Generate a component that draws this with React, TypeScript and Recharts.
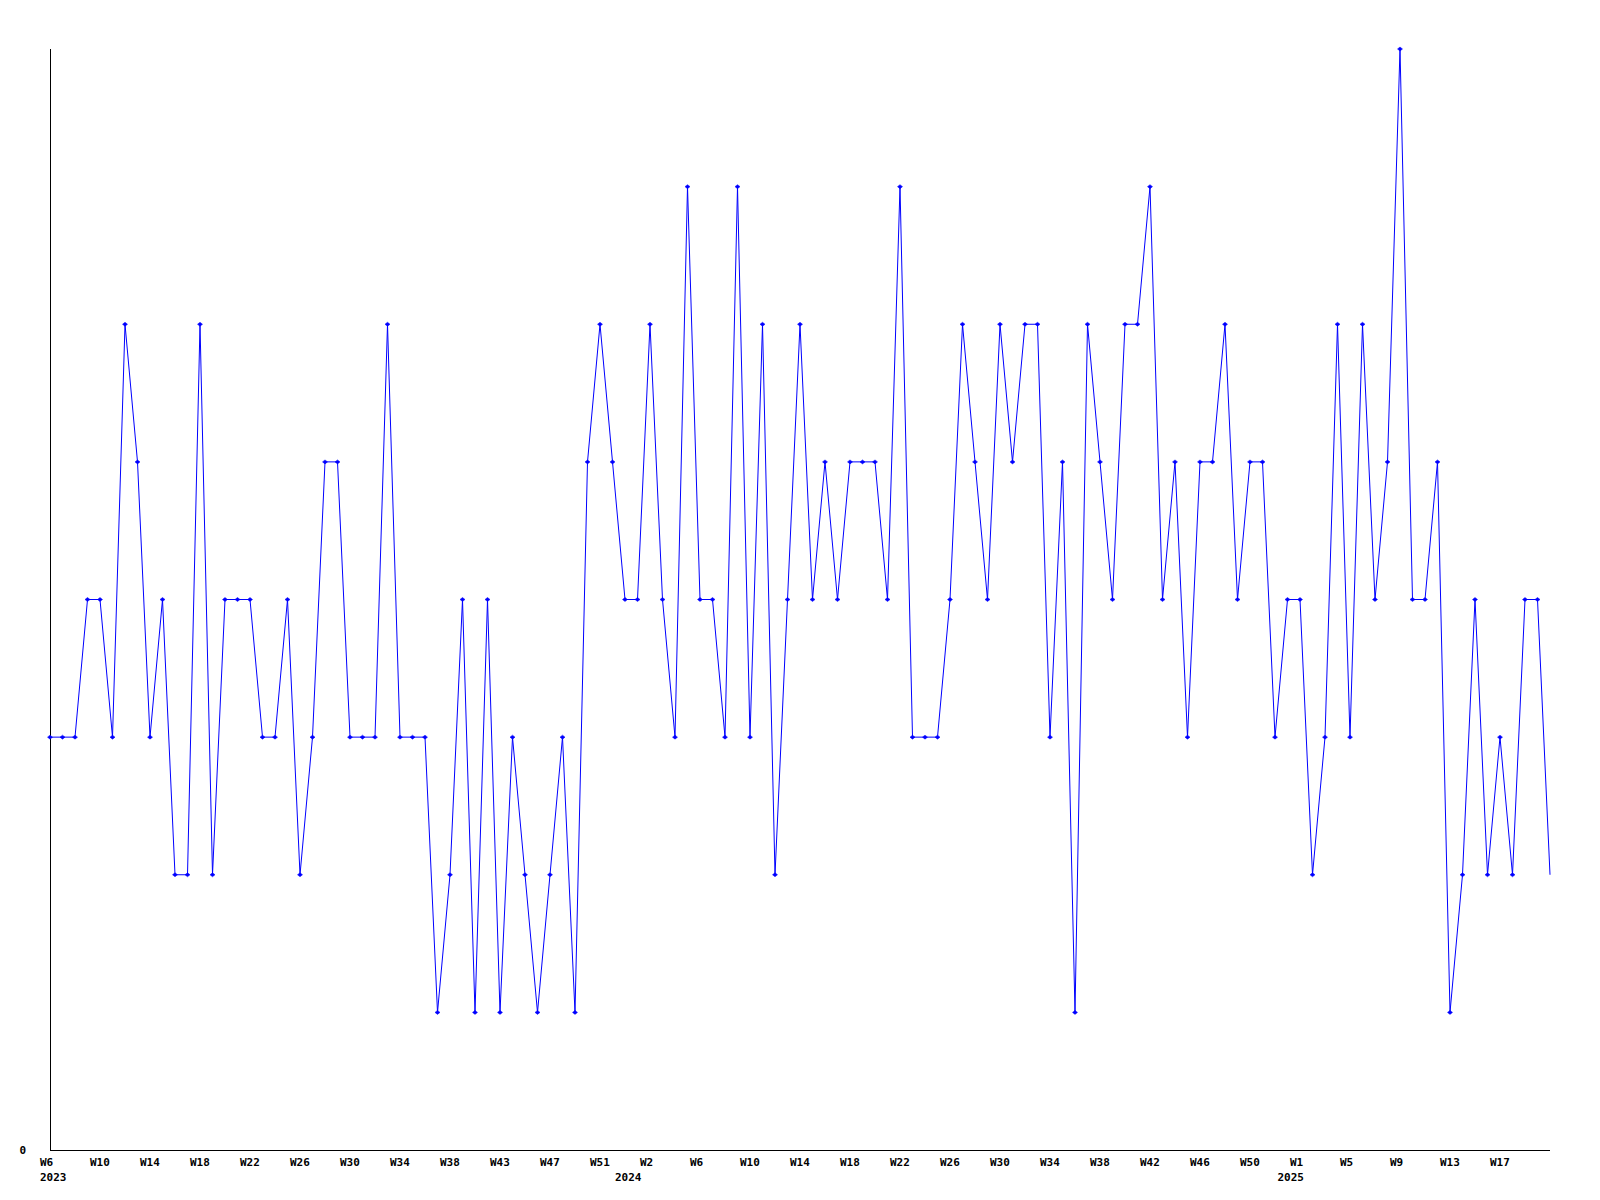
import { Line, LineChart, XAxis, YAxis } from "recharts";

const years = ["2023", "2024", "2025"];

const weeks2023 = [
  "W6", "W7", "W8", "W9", "W10", "W11", "W12", "W13", "W14", "W15",
  "W16", "W17", "W18", "W19", "W20", "W21", "W22", "W23", "W24", "W25",
  "W26", "W27", "W28", "W29", "W30", "W31", "W32", "W33", "W34", "W35",
  "W36", "W37", "W38", "W39", "W40", "W41", "W43", "W44", "W45", "W46",
  "W47", "W48", "W49", "W50", "W51", "W52",
];
const weeks2024 = [
  "W0", "W1", "W2", "W3", "W4", "W5", "W6", "W7", "W8", "W9",
  "W10", "W11", "W12", "W13", "W14", "W15", "W16", "W17", "W18", "W19",
  "W20", "W21", "W22", "W23", "W24", "W25", "W26", "W27", "W28", "W29",
  "W30", "W31", "W32", "W33", "W34", "W35", "W36", "W37", "W38", "W39",
  "W40", "W41", "W42", "W43", "W44", "W45", "W46", "W47", "W48", "W49",
  "W50", "W51", "W52",
];
const weeks2025 = [
  "W0", "W1", "W2", "W3", "W4", "W5", "W6", "W7", "W8", "W9",
  "W10", "W11", "W12", "W13", "W14", "W15", "W16", "W17", "W18", "W19",
  "W20", "W21",
];

const counts2023 = [
  3, 3, 3, 4, 4, 3, 6, 5, 3, 4,
  2, 2, 6, 2, 4, 4, 4, 3, 3, 4,
  2, 3, 5, 5, 3, 3, 3, 6, 3, 3,
  3, 1, 2, 4, 1, 4, 1, 3, 2, 1,
  2, 3, 1, 5, 6, 5,
];
const counts2024 = [
  4, 4, 6, 4, 3, 7, 4, 4, 3, 7,
  3, 6, 2, 4, 6, 4, 5, 4, 5, 5,
  5, 4, 7, 3, 3, 3, 4, 6, 5, 4,
  6, 5, 6, 6, 3, 5, 1, 6, 5, 4,
  6, 6, 7, 4, 5, 3, 5, 5, 6, 4,
  5, 5, 3,
];
const counts2025 = [
  4, 4, 2, 3, 6, 3, 6, 4, 5, 8,
  4, 4, 5, 1, 2, 4, 2, 3, 2, 4,
  4, 2,
];

type Row = { key: string; year: string; week: string; count: number; first: boolean };

const rows: Row[] = [];
[
  [weeks2023, counts2023],
  [weeks2024, counts2024],
  [weeks2025, counts2025],
].forEach(([weeks, counts], yi) => {
  (weeks as string[]).forEach((week, i) => {
    rows.push({
      key: `${years[yi]}-${week}`,
      year: years[yi],
      week,
      count: (counts as number[])[i],
      first: i === 0,
    });
  });
});

const font = "'DejaVu Sans Mono', monospace";
const blue = "#0000ff";
const last = rows.length - 1;

function WeekTick(props: any) {
  const { x, index } = props;
  const row = rows[index];
  if (!row) return null;
  return (
    <g>
      {index % 4 === 0 && index !== last && (
        <text x={x - 10} y={1166} fontFamily={font} fontSize={11} fontWeight="bold" fill="#000">
          {row.week}
        </text>
      )}
      {row.first && (
        <text x={x - 10} y={1181} fontFamily={font} fontSize={11} fontWeight="bold" fill="#000">
          {row.year}
        </text>
      )}
    </g>
  );
}

function ZeroTick(props: any) {
  const { y, payload } = props;
  return (
    <text x={26} y={y + 4} textAnchor="end" fontFamily={font} fontSize={11} fontWeight="bold" fill="#000">
      {payload.value}
    </text>
  );
}

function Marker(props: any) {
  const { cx, cy, index } = props;
  if (cx == null || cy == null || index === last) return <g key={index} />;
  return (
    <path
      key={index}
      d={`M${cx - 2.5},${cy} L${cx},${cy - 2} L${cx + 2.5},${cy} L${cx},${cy + 2} Z`}
      fill={blue}
      stroke={blue}
      strokeWidth={0.5}
    />
  );
}

export default function App() {
  return (
    <div style={{ position: "absolute", left: 0, top: 0, width: 1600, height: 1200, background: "#fff" }}>
      <LineChart width={1600} height={1200} data={rows} margin={{ top: 49, right: 50, bottom: 10, left: 10 }}>
        <XAxis
          dataKey="key"
          interval={0}
          tickLine={false}
          axisLine={{ stroke: "#000", strokeWidth: 1, shapeRendering: "crispEdges" }}
          tick={<WeekTick />}
          height={40}
        />
        <YAxis
          type="number"
          domain={[0, 8]}
          ticks={[0]}
          tickLine={false}
          axisLine={{ stroke: "#000", strokeWidth: 1, shapeRendering: "crispEdges" }}
          tick={<ZeroTick />}
          width={40}
        />
        <Line
          type="linear"
          dataKey="count"
          stroke={blue}
          strokeWidth={1}
          dot={<Marker />}
          activeDot={false}
          isAnimationActive={false}
        />
      </LineChart>
    </div>
  );
}
